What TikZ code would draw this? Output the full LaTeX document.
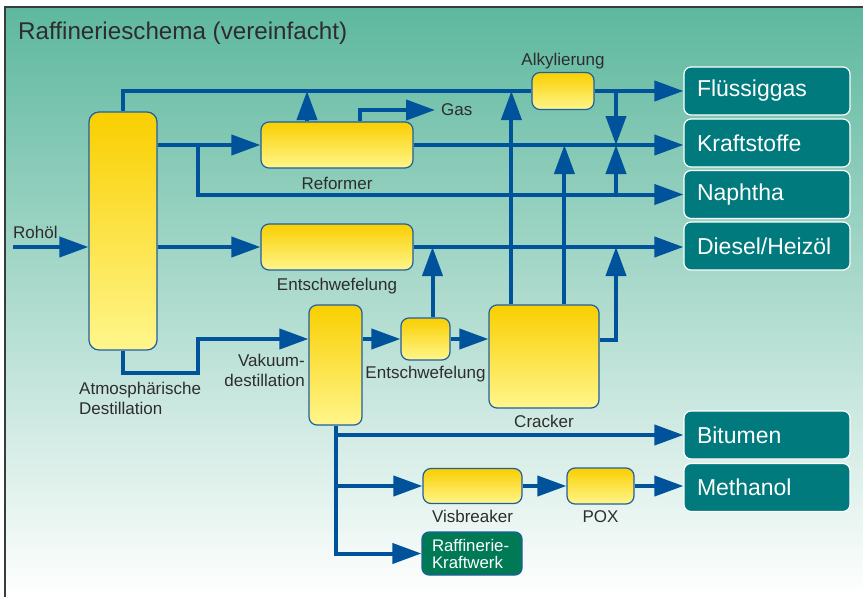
\documentclass[tikz,border=0pt]{standalone}
\usepackage{fontspec}
\setmainfont{Liberation Sans}
\usetikzlibrary{arrows.meta,positioning}

\definecolor{flowblue}{RGB}{0,82,155}
\definecolor{boxedge}{RGB}{31,95,160}
\definecolor{yelltop}{RGB}{249,207,0}
\definecolor{yellbot}{RGB}{255,246,140}
\definecolor{prodteal}{RGB}{0,122,124}
\definecolor{kwgreen}{RGB}{0,122,85}
\definecolor{lblgray}{RGB}{45,45,45}
\definecolor{bgtop}{RGB}{94,184,158}
\definecolor{bgmid}{RGB}{170,218,202}
\definecolor{framegray}{RGB}{55,60,60}

\newcommand\lblfont{\fontsize{17}{19.5}\selectfont}
\newcommand\prodfont{\fontsize{23}{26}\selectfont}
\newcommand\titlefont{\fontsize{24.2}{28}\selectfont}
\newcommand\kwfont{\fontsize{16.8}{17}\selectfont}

\begin{document}
\begin{tikzpicture}[x=1pt, y=-1pt,
	flow/.style = {draw=flowblue, line width=4pt,
		-{Triangle[length=29pt,width=20pt]}},
	pipe/.style = {draw=flowblue, line width=4pt},
	unit/.style = {draw=boxedge, line width=1.2pt, rounded corners=8pt,
		top color=yelltop, bottom color=yellbot, inner sep=0pt},
	product/.style = {draw=white, line width=1.2pt, rounded corners=7pt,
		fill=prodteal, text=white, font=\prodfont, align=left,
		text width=140pt, inner xsep=13pt, inner ysep=0pt,
		minimum height=48pt},
	kwbox/.style = {draw=boxedge, line width=1.2pt, rounded corners=7pt,
		fill=kwgreen, text=white, font=\kwfont, align=left,
		text width=80pt, inner xsep=10pt, inner ysep=0pt,
		minimum height=43pt},
	lbl/.style = {text=lblgray, font=\lblfont, inner sep=0pt}
]

	\useasboundingbox (0,0) rectangle (863,597);
	\shade [top color=bgtop, middle color=bgmid, bottom color=white]
		(5,7) rectangle (863,597);
	\draw [framegray, line width=2pt] (5,597) -- (5,7) -- (863,7);

	\node [lbl, anchor=base west] (title) at (18,39)
		{\titlefont Raffinerieschema (vereinfacht)};

	\node [unit, minimum width=68pt, minimum height=238pt,
		   rounded corners=10pt] (atm) at (123,231) {};
	\node [unit, minimum width=152pt, minimum height=46pt] (ref) at (337,145) {};
	\node [unit, minimum width=152pt, minimum height=46pt] (desA) at (337,247) {};
	\node [unit, minimum width=62pt, minimum height=37pt] (alky) at (563,91) {};
	\node [unit, minimum width=53pt, minimum height=120pt] (vac) at (335.5,365) {};
	\node [unit, minimum width=49pt, minimum height=42pt] (desB) at (425.5,339) {};
	\node [unit, minimum width=110pt, minimum height=103pt] (crk) at (544,356.5) {};
	\node [unit, minimum width=99pt, minimum height=35pt] (visb) at (472.5,486) {};
	\node [unit, minimum width=67pt, minimum height=36pt] (pox) at (600.5,486) {};
	\node [kwbox] (kw) at (472,553.5) {Raffinerie-\\Kraftwerk};

	\node [product] (lpg) at (767,91) {Flüssiggas};
	\node [product] (fuel) at (767,143) {Kraftstoffe};
	\node [product] (nap) at (767,194.5) {Naphtha};
	\node [product] (dsl) at (767,246) {Diesel/Heizöl};
	\node [product] (bit) at (767,435) {Bitumen};
	\node [product] (meth) at (767,487.5) {Methanol};

	\node [lbl, anchor=base west] (feedlbl) at (13,238) {Rohöl};
	\node [lbl, anchor=north west, align=left] (atmlbl) at (79,382)
		{Atmosphärische\\Destillation};
	\node [lbl, anchor=north east, align=right] (vaclbl) at (305,354)
		{Vakuum-\\destillation};
	\node [lbl, below=8pt of ref] (reflbl) {Reformer};
	\node [lbl, below=7pt of desA] (desAlbl) {Entschwefelung};
	\node [lbl, below=5pt of desB] (desBlbl) {Entschwefelung};
	\node [lbl, below=6pt of crk] (crklbl) {Cracker};
	\node [lbl, below=6pt of visb] (visblbl) {Visbreaker};
	\node [lbl, below=6pt of pox] (poxlbl) {POX};
	\node [lbl, above=3pt of alky] (alkylbl) {Alkylierung};
	\node [lbl, anchor=west, inner xsep=6pt] (gas) at (435,110) {Gas};

	\coordinate (feed) at (13,247);
	\coordinate (nsplit) at (198,145);
	\coordinate (reftap) at ([xshift=-30pt]ref.north);
	\coordinate (gastap) at ([xshift=23pt]ref.north);
	\coordinate (cr1) at ([xshift=23pt]crk.north west);
	\coordinate (cr2) at ([xshift=76pt]crk.north west);
	\coordinate (adrop) at (616,91);
	\coordinate (drise) at (616,340);
	\coordinate (desBtap) at ([xshift=7pt]desB.north);
	\coordinate (vjog) at (198,373);

	\draw [flow] (feed) -- (feed -| atm.west);
	\draw [pipe] (atm.north) |- (alky.west);
	\draw [flow] (alky.east) -- (alky.east -| lpg.west);
	\draw [flow] (ref.west -| atm.east) -- (ref.west);
	\draw [flow] (nsplit) |- (nap.west);
	\draw [flow] (ref.east) -- (ref.east -| fuel.west);
	\draw [flow] (reftap) -- (reftap |- alky);
	\draw [flow] (gastap) |- (gas.west);
	\draw [flow] (cr1) -- (cr1 |- alky);
	\draw [flow] (cr2) -- (cr2 |- ref);
	\draw [flow] (adrop) -- (adrop |- ref);
	\draw [flow] (adrop |- nap) -- (adrop |- ref);
	\draw [flow] (desA.west -| atm.east) -- (desA.west);
	\draw [flow] (desA.east) -- (desA.east -| dsl.west);
	\draw [flow] (desBtap) -- (desBtap |- desA);
	\draw [flow] (crk.east |- drise) -- (drise) -- (drise |- desA);
	\draw [flow] (atm.south) |- (vjog) |- (vac.west |- desB);
	\draw [flow] (vac.east |- desB) -- (desB.west);
	\draw [flow] (desB.east) -- (desB.east -| crk.west);
	\draw [flow] (vac.south) |- (kw.west);
	\draw [flow] (vac.south |- bit) -- (bit.west);
	\draw [flow] (vac.south |- visb) -- (visb.west);
	\draw [flow] (visb.east) -- (pox.west);
	\draw [flow] (pox.east) -- (pox.east -| meth.west);

\end{tikzpicture}
\end{document}
